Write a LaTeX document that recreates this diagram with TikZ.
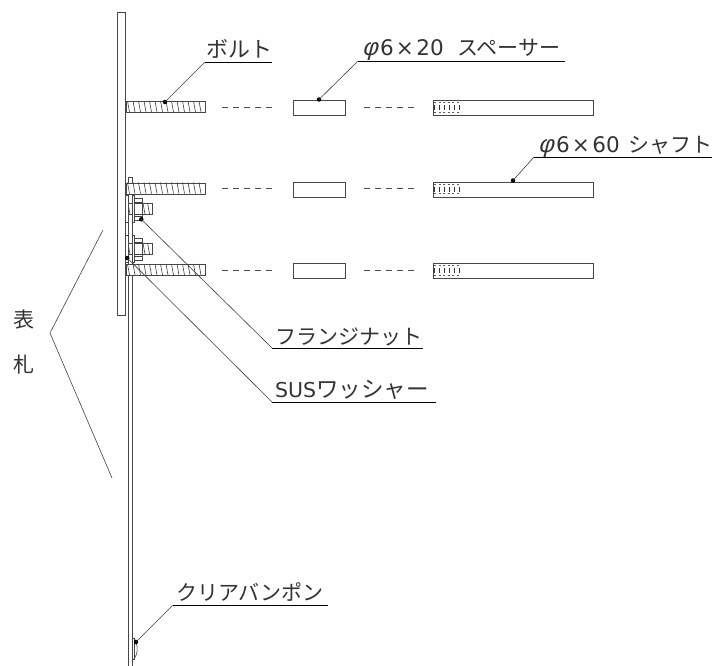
\documentclass[tikz,border=0pt]{standalone}
\usepackage{fontspec}
\setmainfont{Noto Sans CJK JP}
\newfontfamily\lat{DejaVu Sans}
\newfontfamily\phifont[FakeSlant=0.25]{Liberation Sans}
\newcommand{\dia}[2]{\makebox[#1][l]{\makebox[18pt][l]{\phifont\fontsize{24}{24}\selectfont φ}{\lat\fontsize{21.5}{22}\selectfont 6\kern2pt×\kern2.5pt#2}}}
\begin{document}
\begin{tikzpicture}[x=1pt,y=-1pt,
  part/.style={draw=black!72,line width=.75pt,fill=white},
  thread/.style={draw=black!75,line width=.6pt},
  lead/.style={draw=black!75,line width=.6pt},
  under/.style={draw=black,line width=.8pt},
  tag/.style={anchor=base west,inner sep=0pt,text=black!80},
  pin/.style={circle,fill=black,inner sep=0pt,minimum size=4.5pt},
  dashrow/.style={draw=black!70,line width=.6pt,dash pattern=on 6pt off 5pt},
  fine/.style={draw=black!65,line width=.5pt,dash pattern=on 2pt off 2.6pt}]
\useasboundingbox (0,0) rectangle (720,666);
% rear clear panel and sign plate
\node[part,minimum width=4pt,minimum height=489pt,inner sep=0pt,anchor=north west] (panel) at (127.5,177) {};
\node[part,minimum width=8pt,minimum height=302.5pt,inner sep=0pt,anchor=north west] (plate) at (117.3,12.5) {};
% three rows
\foreach \n/\y in {a/101,b/182.5,c/264}{
  \node[part,minimum width=79pt,minimum height=11pt,inner sep=0pt,anchor=north west] (bolt\n) at (125.5,\y) {};
  \foreach \i in {0,...,13}{
    \draw[thread] ({127.5+5.5*\i},\y) -- ({129.5+5.5*\i},\y+11);
  }
  \draw[dashrow] (222,\y+6) -- (276,\y+6);
  \draw[dashrow] (364,\y+6) -- (418,\y+6);
  \node[part,minimum width=52pt,minimum height=15pt,inner sep=0pt,anchor=north west] (spacer\n) at (293,\y-1) {};
  \node[part,minimum width=160pt,minimum height=15pt,inner sep=0pt,anchor=north west] (shaft\n) at (433,\y-1) {};
  \draw[fine] (434,\y+1.5) -- (460,\y+1.5);
  \draw[fine] (434,\y+11) -- (460,\y+11);
  \foreach \i in {0,...,5}{
    \draw[draw=black!80,line width=.6pt] ({434.5+5*\i},\y+4) -- ({434.5+5*\i},\y+9);
  }
}
% short bolts with flange nuts
\foreach \n/\y in {u/203.3,l/243.3}{
  \node[part,minimum width=26.5pt,minimum height=11pt,inner sep=0pt,anchor=north west] (short\n) at (125.3,\y) {};
  \foreach \i in {0,1}{
    \draw[thread] ({128+5.25*\i},\y) -- ({130+5.25*\i},\y+11);
  }
  \foreach \i in {0,1}{
    \draw[thread] ({143+4.6*\i},\y) -- ({145+4.6*\i},\y+11);
  }
  \node[part,minimum width=2.2pt,minimum height=27pt,inner sep=0pt,anchor=north west] (washer\n) at (125.3,\y-8.3) {};
  \node[part,minimum width=2pt,minimum height=27pt,inner sep=0pt,anchor=north west] (flange\n) at (131.7,\y-8.3) {};
  \node[part,minimum width=8pt,minimum height=22.5pt,inner sep=0pt,anchor=north west] (nut\n) at (133.7,\y-5.6) {};
  \draw[thread] (133.7,\y-1.5) -- (141.7,\y-1.5);
  \draw[thread] (133.7,\y+12.5) -- (141.7,\y+12.5);
  \draw[thread] (133.7,\y) -- (141.7,\y);
  \draw[thread] (133.7,\y+11) -- (141.7,\y+11);
}
% clear bumper
\node[part,minimum width=2.5pt,minimum height=21pt,inner sep=0pt,anchor=north west] (bump) at (131.5,638) {};
\draw[thread] (134,638) .. controls (138.5,645) and (138,654) .. (134,659);
% leader dots
\node[pin] (pbolt) at (165,102) {};
\node[pin] (pspacer) at (319,99.5) {};
\node[pin] (pshaft) at (513,180.5) {};
\node[pin] (pnut) at (141.3,219.3) {};
\node[pin] (pwasher) at (127.3,258) {};
\node[pin] (pbump) at (136,642) {};
% labels
\node[tag,font=\fontsize{22}{22}\selectfont] (tbolt) at (206,58) {ボルト};
\node[tag,font=\fontsize{21}{21}\selectfont] (tspacer) at (362,56) {\dia{95pt}{20}スペーサー};
\node[tag,font=\fontsize{21}{21}\selectfont] (tshaft) at (538,152.5) {\dia{90pt}{60}シャフト};
\node[tag,font=\fontsize{21}{21}\selectfont] (tnut) at (275,344) {フランジナット};
\node[tag,font=\fontsize{22.5}{23}\selectfont] (twasher) at (275,397) {{\lat\fontsize{20.5}{21}\selectfont SUS}ワッシャー};
\node[tag,font=\fontsize{21}{21}\selectfont] (tbump) at (176,600.5) {クリアバンポン};
\node[font=\fontsize{21}{21}\selectfont,text=black!80,inner sep=0pt] (hyo) at (24,320) {表};
\node[font=\fontsize{21}{21}\selectfont,text=black!80,inner sep=0pt] (satsu) at (24,365) {札};
% leaders
\coordinate (a1) at (205,62); \coordinate (a2) at (272,62);
\coordinate (b1) at (358,61); \coordinate (b2) at (565,61);
\coordinate (c1) at (534,157); \coordinate (c2) at (712,157);
\coordinate (d1) at (272,348); \coordinate (d2) at (423,348);
\coordinate (e1) at (272,402); \coordinate (e2) at (436,402);
\coordinate (f1) at (173,605); \coordinate (f2) at (328,605);
\draw[lead] (pbolt.center) -- (a1); \draw[under] (a1) -- (a2);
\draw[lead] (pspacer.center) -- (b1); \draw[under] (b1) -- (b2);
\draw[lead] (pshaft.center) -- (c1); \draw[under] (c1) -- (c2);
\draw[lead] (pnut.center) -- (d1); \draw[under] (d1) -- (d2);
\draw[lead] (pwasher.center) -- (e1); \draw[under] (e1) -- (e2);
\draw[lead] (pbump.center) -- (f1); \draw[under] (f1) -- (f2);
% bracket
\coordinate (br1) at (103,230); \coordinate (br2) at (50,333); \coordinate (br3) at (112,478);
\draw[lead] (br1) -- (br2) -- (br3);
\end{tikzpicture}
\end{document}
